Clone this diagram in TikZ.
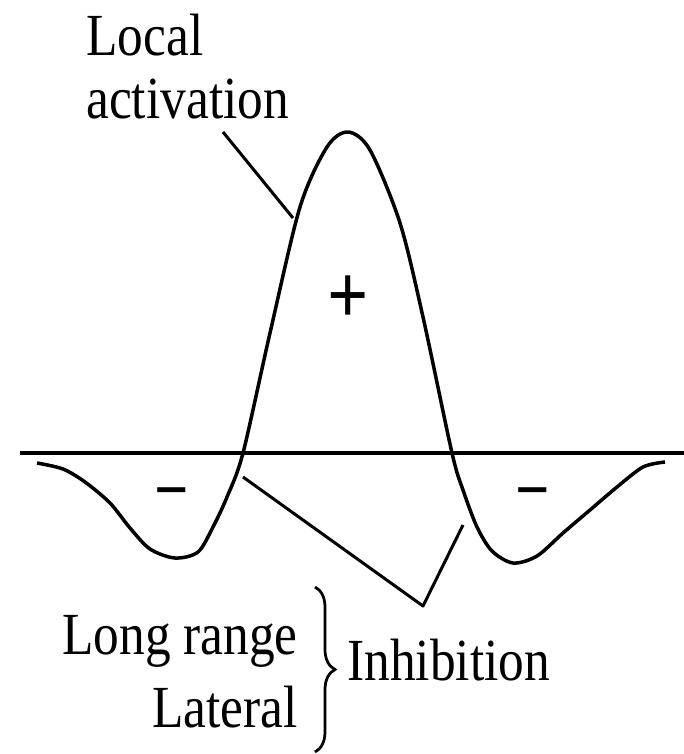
\documentclass[tikz,border=0pt]{standalone}
\usepackage{fontspec}
\setmainfont{Liberation Serif}[FakeStretch=0.86]
\usepackage{tikz}
\usetikzlibrary{positioning,decorations.pathreplacing}

\begin{document}
\begin{tikzpicture}[
  x=0.2mm, y=-0.2mm,
  every node/.style={font=\fontsize{34}{40}\selectfont, inner sep=0pt},
  profile/.style={line width=0.7mm, line join=round},
  leader/.style={line width=0.6mm, line join=round},
  plussign/.style={font=\fontsize{48}{48}\selectfont\bfseries},
  minussign/.style={font=\fontsize{40}{40}\selectfont\bfseries}
]
  \useasboundingbox (0,0) rectangle (684,754);

  % base line
  \coordinate (axL) at (20,453);
  \coordinate (axR) at (684,453);
  \draw[line width=0.8mm] (axL) -- (axR);

  % mexican hat
  \draw[profile] plot[smooth, tension=0.5] coordinates {
    (37,463) (63,469) (85,482) (110,503) (130,528) (150,549) (175,558)
    (198,552) (213,527) (227,497)
    (243,453) (270,333) (300,207) (327,147) (348,132) (370,150) (400,223)
    (423,317) (452,453) (463,490) (477,527) (492,551) (513,563) (537,556)
    (563,533) (590,510) (617,487) (643,467) (665,462)};

  \node[plussign] (plus) at (348,300) {+};
  \node[minussign] (mL) at (172,501) {−};
  \node[minussign] (mR) at (533,501) {−};

  % labels
  \node[anchor=base west] (loc) at (86,55) {Local};
  \node[anchor=base west] (act) at (86,118) {activation};
  \coordinate (actA) at (223,132);
  \coordinate (actB) at (293,218);
  \draw[leader] (actA) -- (actB);

  \coordinate (inhA) at (243,477);
  \coordinate (inhV) at (423,606);
  \coordinate (inhB) at (463,525);
  \draw[leader] (inhA) -- (inhV) -- (inhB);

  \node[anchor=base east] (lr) at (298,654) {Long range};
  \node[anchor=base east] (lat) at (298,727) {Lateral};
  \coordinate (brT) at (315,587);
  \coordinate (brB) at (315,752);
  \draw[line width=0.55mm, decorate, decoration={brace, amplitude=4mm}] (brT) -- (brB);
  \node[anchor=base west] (inh) at (347,680) {Inhibition};
\end{tikzpicture}
\end{document}
